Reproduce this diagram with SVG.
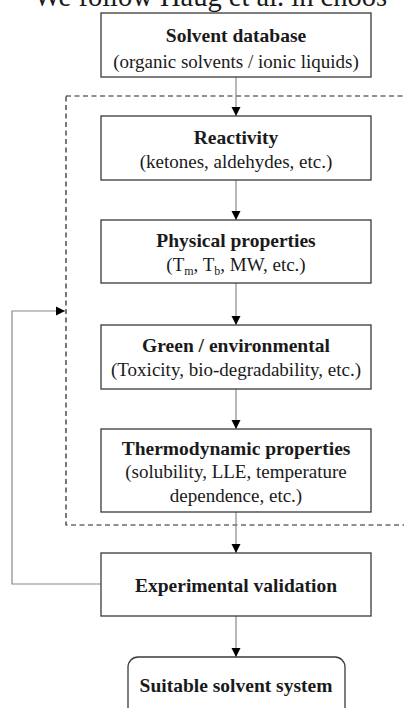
<svg xmlns="http://www.w3.org/2000/svg" width="404" height="708" viewBox="0 0 404 708">
<defs>
<style>
.box{fill:#fff;stroke:#3a3a3a;stroke-width:1.3}
.t{font-family:"Liberation Serif","Times New Roman",serif;font-size:19.5px;font-weight:bold;fill:#1a1a1a;text-anchor:middle}
.s{font-family:"Liberation Serif","Times New Roman",serif;font-size:19px;fill:#1a1a1a;text-anchor:middle}
.c{fill:none;stroke:#888;stroke-width:1.2}
</style>
<marker id="ah" markerWidth="10" markerHeight="10" refX="9" refY="5" orient="auto" markerUnits="userSpaceOnUse">
<path d="M0,0.5 L9,5 L0,9.5 Z" fill="#000"/>
</marker>
</defs>
<rect width="404" height="708" fill="#fff"/>
<text x="34" y="6" style="font-family:'Liberation Serif','Times New Roman',serif;font-size:28.5px;fill:#1a1a1a">We follow Haug et al. in choos</text>
<rect x="66" y="96" width="360" height="429" fill="none" stroke="#222" stroke-width="1.2" stroke-dasharray="5,3.5"/>
<g id="connectors">
<line class="c" x1="236" y1="77" x2="236" y2="116" marker-end="url(#ah)"/>
<line class="c" x1="236" y1="180" x2="236" y2="220" marker-end="url(#ah)"/>
<line class="c" x1="236" y1="283" x2="236" y2="325" marker-end="url(#ah)"/>
<line class="c" x1="236" y1="389" x2="236" y2="429" marker-end="url(#ah)"/>
<line class="c" x1="236" y1="512" x2="236" y2="553" marker-end="url(#ah)"/>
<line class="c" x1="236" y1="616" x2="236" y2="657" marker-end="url(#ah)"/>
<polyline class="c" points="101,584 12,584 12,311 65,311" marker-end="url(#ah)"/>
</g>
<g id="solvent-database">
<rect class="box" x="101" y="13" width="270" height="64"/>
<text class="t" x="236" y="42">Solvent database</text>
<text class="s" x="236" y="68">(organic solvents / ionic liquids)</text>
</g>
<g id="reactivity">
<rect class="box" x="101" y="116" width="270" height="64"/>
<text class="t" x="236" y="144">Reactivity</text>
<text class="s" x="236" y="168">(ketones, aldehydes, etc.)</text>
</g>
<g id="physical-properties">
<rect class="box" x="101" y="220" width="270" height="63"/>
<text class="t" x="236" y="247">Physical properties</text>
<text class="s" x="236" y="271">(T<tspan font-size="12" dy="4">m</tspan><tspan dy="-4">, T</tspan><tspan font-size="12" dy="4">b</tspan><tspan dy="-4">, MW, etc.)</tspan></text>
</g>
<g id="green-environmental">
<rect class="box" x="101" y="325" width="270" height="64"/>
<text class="t" x="236" y="352">Green / environmental</text>
<text class="s" x="236" y="376">(Toxicity, bio-degradability, etc.)</text>
</g>
<g id="thermodynamic-properties">
<rect class="box" x="101" y="429" width="270" height="83"/>
<text class="t" x="236" y="455">Thermodynamic properties</text>
<text class="s" x="236" y="478">(solubility, LLE, temperature</text>
<text class="s" x="236" y="502">dependence, etc.)</text>
</g>
<g id="experimental-validation">
<rect class="box" x="101" y="553" width="270" height="63"/>
<text class="t" x="236" y="592">Experimental validation</text>
</g>
<g id="suitable-solvent-system">
<rect class="box" x="128" y="657" width="217" height="70" rx="10"/>
<text class="t" x="236" y="692">Suitable solvent system</text>
</g>
</svg>
